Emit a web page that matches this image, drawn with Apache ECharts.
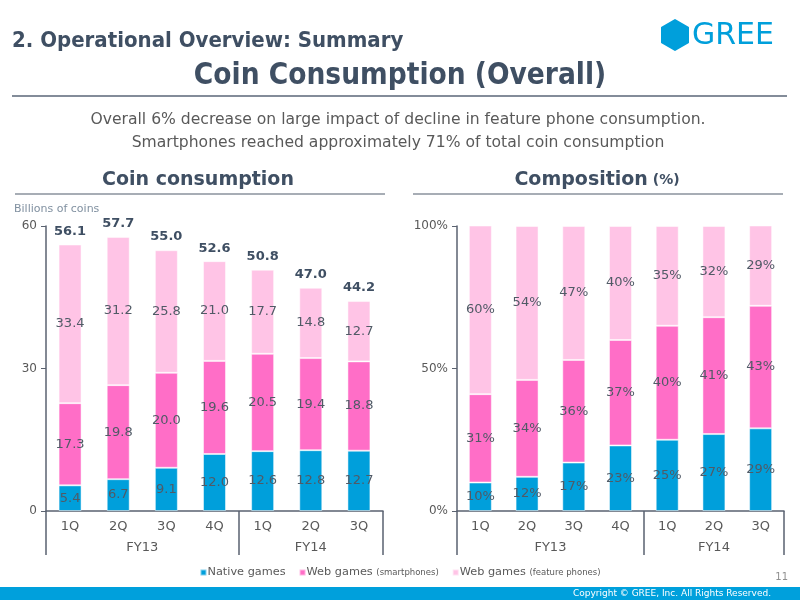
<!DOCTYPE html>
<html>
<head>
<meta charset="utf-8">
<script src="https://cdn.jsdelivr.net/npm/echarts@6/dist/echarts.min.js"></script>
<style>
  html, body { margin: 0; padding: 0; background: #fff; }
  #chart { width: 800px; height: 600px; }
</style>
</head>
<body>
<div id="chart"></div>
<script>
const quarters = ["1Q", "2Q", "3Q", "4Q", "1Q", "2Q", "3Q"];
const fiscalYears = ["FY13", "FY14"];
const fiscalSpans = [4, 3];

const nativeCoins = [5.4, 6.7, 9.1, 12.0, 12.6, 12.8, 12.7];
const webSmartCoins = [17.3, 19.8, 20.0, 19.6, 20.5, 19.4, 18.8];
const webFeatureCoins = [33.4, 31.2, 25.8, 21.0, 17.7, 14.8, 12.7];
const totalCoins = [56.1, 57.7, 55.0, 52.6, 50.8, 47.0, 44.2];

const nativePct = [10, 12, 17, 23, 25, 27, 29];
const webSmartPct = [31, 34, 36, 37, 40, 41, 43];
const webFeaturePct = [60, 54, 47, 40, 35, 32, 29];

const leftTicks = [0, 30, 60];
const rightTicks = [0, 50, 100];

const seriesNames = ["Native games", "Web games (smartphones)", "Web games (feature phones)"];
const colors = ["#009fdb", "#ff6ec7", "#ffc4e6"];

const FONT = "DejaVu Sans";
const DARK = "#3f4f63";
const GREY = "#595959";

// FY group boundaries and label positions on a 0..7 value scale
const groupEdges = [0];
fiscalSpans.forEach(s => groupEdges.push(groupEdges[groupEdges.length - 1] + s));
const groupCenters = fiscalSpans.map((s, i) => groupEdges[i] + s / 2);

function groupAxis(gridIndex) {
  return {
    type: "value", gridIndex, position: "bottom", min: 0, max: quarters.length,
    axisLine: { show: false },
    splitLine: { show: false },
    axisTick: { show: true, customValues: groupEdges, length: 44, lineStyle: { color: "#5a6270", width: 1.5 } },
    axisLabel: {
      customValues: groupCenters, margin: 30, color: GREY, fontFamily: FONT, fontSize: 13,
      formatter: v => fiscalYears[groupCenters.indexOf(v)]
    }
  };
}

function catAxis(gridIndex) {
  return {
    type: "category", gridIndex, data: quarters,
    axisLine: { lineStyle: { color: "#5a6270", width: 1.5 } },
    axisTick: { length: 22, lineStyle: { color: "#a0a6ae", width: 1.5 } },
    axisLabel: { color: GREY, fontFamily: FONT, fontSize: 13, margin: 9 }
  };
}

function valAxis(gridIndex, ticks, fmt) {
  return {
    type: "value", gridIndex, min: ticks[0], max: ticks[ticks.length - 1],
    interval: ticks[1] - ticks[0],
    axisLine: { show: true, lineStyle: { color: "#5a6270", width: 1.5 } },
    axisTick: { show: true, length: 5, lineStyle: { color: "#5a6270" } },
    splitLine: { show: false },
    axisLabel: { color: GREY, fontFamily: FONT, fontSize: 12, margin: 9, formatter: fmt }
  };
}

function barSeries(name, data, idx, axisIdx, fmt) {
  return {
    name, type: "bar", data, stack: "s" + axisIdx, xAxisIndex: axisIdx * 2, yAxisIndex: axisIdx,
    barWidth: 23,
    itemStyle: { color: colors[idx], borderColor: "rgba(255,255,255,0.5)", borderWidth: 1 },
    label: { show: true, position: "inside", color: "#505a66", fontFamily: FONT, fontSize: 13, formatter: fmt },
    emphasis: { disabled: true }
  };
}

const chart = echarts.init(document.getElementById("chart"));

chart.setOption({
  animation: false,
  textStyle: { fontFamily: FONT },
  grid: [
    { left: 46, right: 417, top: 226, bottom: 89 },
    { left: 457, right: 16, top: 226, bottom: 89 }
  ],
  xAxis: [catAxis(0), groupAxis(0), catAxis(1), groupAxis(1)],
  yAxis: [
    valAxis(0, leftTicks, v => v),
    valAxis(1, rightTicks, v => v + "%")
  ],
  legend: {
    data: seriesNames, top: 562, left: "center", icon: "rect", itemWidth: 6, itemHeight: 6, itemGap: 13,
    textStyle: { color: GREY, fontFamily: FONT, fontSize: 11.3, padding: [0, 0, 0, -4], rich: { s: { fontSize: 8.5, color: GREY, fontFamily: FONT } } },
    formatter: n => n.replace(/ \((.*)\)/, " {s|($1)}"),
    selectedMode: false
  },
  series: [
    barSeries(seriesNames[0], nativeCoins, 0, 0, p => p.value.toFixed(1)),
    barSeries(seriesNames[1], webSmartCoins, 1, 0, p => p.value.toFixed(1)),
    barSeries(seriesNames[2], webFeatureCoins, 2, 0, p => p.value.toFixed(1)),
    {
      type: "scatter", data: totalCoins, xAxisIndex: 0, yAxisIndex: 0, symbolSize: 1,
      itemStyle: { color: "rgba(0,0,0,0)", opacity: 1 }, silent: true,
      label: { show: true, position: "top", distance: 6, color: DARK, opacity: 1, fontWeight: "bold", fontFamily: FONT, fontSize: 13, formatter: p => p.value.toFixed(1) }
    },
    barSeries(seriesNames[0], nativePct, 0, 1, p => p.value + "%"),
    barSeries(seriesNames[1], webSmartPct, 1, 1, p => p.value + "%"),
    barSeries(seriesNames[2], webFeaturePct, 2, 1, p => p.value + "%")
  ],
  graphic: [
    { type: "text", left: 12, top: 30, style: { text: "2. Operational Overview: Summary", font: "bold 22px 'DejaVu Sans Condensed', 'DejaVu Sans'", fill: DARK } },
    { type: "text", x: 400, y: 76, style: { text: "Coin Consumption (Overall)", font: "bold 29.5px 'DejaVu Sans Condensed', 'DejaVu Sans'", fill: DARK, align: "center", verticalAlign: "middle" } },
    { type: "line", shape: { x1: 12, y1: 96, x2: 787, y2: 96 }, style: { stroke: "#5a6677", lineWidth: 1.5 } },
    { type: "text", x: 398, y: 120, style: { text: "Overall 6% decrease on large impact of decline in feature phone consumption.", font: "15.6px 'DejaVu Sans'", fill: GREY, align: "center", verticalAlign: "middle" } },
    { type: "text", x: 398, y: 143, style: { text: "Smartphones reached approximately 71% of total coin consumption", font: "15.6px 'DejaVu Sans'", fill: GREY, align: "center", verticalAlign: "middle" } },
    { type: "text", x: 198, y: 180, style: { text: "Coin consumption", font: "bold 19px 'DejaVu Sans'", fill: DARK, align: "center", verticalAlign: "middle" } },
    { type: "line", shape: { x1: 15, y1: 194, x2: 385, y2: 194 }, style: { stroke: "#8a929c", lineWidth: 1.5 } },
    { type: "text", x: 597, y: 180, style: { text: "Composition{s| (%)}", font: "bold 19px 'DejaVu Sans'", fill: DARK, align: "center", verticalAlign: "middle", rich: { s: { font: "bold 14px 'DejaVu Sans'", fill: DARK } } } },
    { type: "line", shape: { x1: 413, y1: 194, x2: 783, y2: 194 }, style: { stroke: "#8a929c", lineWidth: 1.5 } },
    { type: "text", left: 14, top: 204, style: { text: "Billions of coins", font: "11px 'DejaVu Sans'", fill: "#8090a0" } },
    { type: "polygon", shape: { points: [[675, 20], [688, 27.5], [688, 42.5], [675, 50], [662, 42.5], [662, 27.5]] }, style: { fill: "#009fdb", lineJoin: "round", stroke: "#009fdb", lineWidth: 2 } },
    { type: "text", left: 692, top: 21, style: { text: "GREE", font: "30px 'DejaVu Sans'", fill: "#009fdb" } },
    { type: "rect", shape: { x: 0, y: 587, width: 800, height: 13 }, style: { fill: "#00a0dc" } },
    { type: "text", x: 771, y: 594, style: { text: "Copyright © GREE, Inc. All Rights Reserved.", font: "9px 'DejaVu Sans'", fill: "#ffffff", align: "right", verticalAlign: "middle" } },
    { type: "text", x: 788, y: 577, style: { text: "11", font: "10px 'DejaVu Sans'", fill: "#909090", align: "right", verticalAlign: "middle" } }
  ]
});
</script>
</body>
</html>
